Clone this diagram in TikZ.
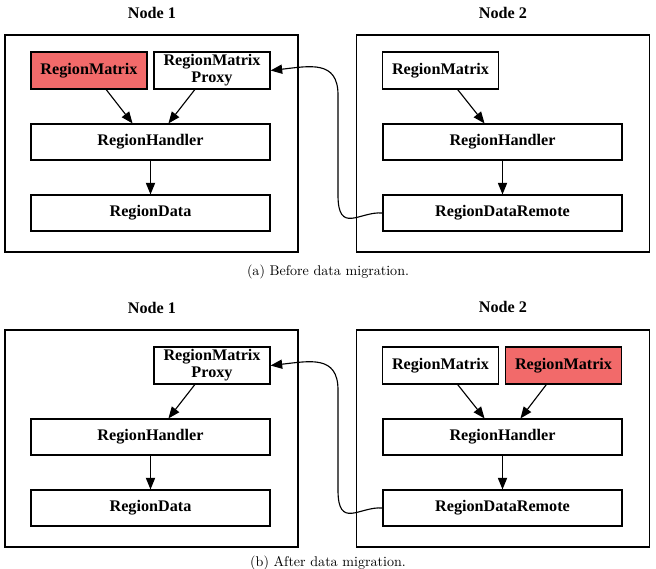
\documentclass[tikz,border=0pt]{standalone}
\usepackage{fontspec}
\newfontfamily\gvfont{Liberation Serif}
\usetikzlibrary{arrows.meta}
\definecolor{migred}{RGB}{242,106,106}

\begin{document}
\begin{tikzpicture}[x=0.025cm, y=-0.025cm,
  hostbox/.style={draw=black, line width=0.9pt, minimum width=7.325cm, minimum height=5.425cm, inner sep=0pt},
  smallbox/.style={draw=black, line width=0.8pt, fill=white, minimum width=2.9cm, minimum height=0.925cm, inner sep=1pt, align=center, font=\gvfont\bfseries\fontsize{11.5}{12}\selectfont},
  widebox/.style={smallbox, minimum width=5.975cm, minimum height=0.9cm},
  hot/.style={fill=migred},
  hosttitle/.style={font=\gvfont\bfseries\fontsize{11.5}{13}\selectfont},
  subcap/.style={anchor=base, inner sep=0pt, font=\fontsize{10}{12}\selectfont},
  arr/.style={-{Triangle[length=2.9mm,width=2.3mm]}, line width=0.8pt}]
\useasboundingbox (0,0) rectangle (656,568);

% (a) Before data migration
\node[hosttitle] (ta1) at (152,13) {Node 1};
\node[hosttitle] (ta2) at (503,13) {Node 2};
\node[hostbox] (ha1) at (151.5,143.5) {};
\node[hostbox] (ha2) at (503,143.5) {};
\node[smallbox, hot] (rma1) at (89,70.5) {RegionMatrix};
\node[smallbox] (pxa1) at (212,70.5) {RegionMatrix\\Proxy};
\node[widebox] (rha1) at (150.5,142) {RegionHandler};
\node[widebox] (rda1) at (150.5,213) {RegionData};
\node[smallbox] (rma2) at (440.5,70.5) {RegionMatrix};
\node[widebox] (rha2) at (502.5,142) {RegionHandler};
\node[widebox] (rra2) at (502.5,213) {RegionDataRemote};
\draw[arr] (rma1.-48) -- (rha1.134);
\draw[arr] (pxa1.-132) -- (rha1.46);
\draw[arr] (rha1) -- (rda1);
\draw[arr] (rma2.-48) -- (rha2.134);
\draw[arr] (rha2) -- (rra2);
\draw[arr] (rra2.west) .. controls (360,211) and (338,235) .. (338,195) -- (338,95) .. controls (338,60) and (310,66) .. (pxa1.east);
\node[subcap] (capa) at (328,275) {(a) Before data migration.};

% (b) After data migration
\node[hosttitle] (tb1) at (152,308) {Node 1};
\node[hosttitle] (tb2) at (503,307) {Node 2};
\node[hostbox] (hb1) at (151.5,438.5) {};
\node[hostbox] (hb2) at (503,438.5) {};
\node[smallbox] (pxb1) at (212,365.5) {RegionMatrix\\Proxy};
\node[widebox] (rhb1) at (150.5,437) {RegionHandler};
\node[widebox] (rdb1) at (150.5,508) {RegionData};
\node[smallbox] (rmb2) at (440.5,365.5) {RegionMatrix};
\node[smallbox, hot] (rmb3) at (563.5,365.5) {RegionMatrix};
\node[widebox] (rhb2) at (502.5,437) {RegionHandler};
\node[widebox] (rrb2) at (502.5,508) {RegionDataRemote};
\draw[arr] (pxb1.-132) -- (rhb1.46);
\draw[arr] (rhb1) -- (rdb1);
\draw[arr] (rmb2.-48) -- (rhb2.134);
\draw[arr] (rmb3.-132) -- (rhb2.46);
\draw[arr] (rhb2) -- (rrb2);
\draw[arr] (rrb2.west) .. controls (360,506) and (338,530) .. (338,490) -- (338,390) .. controls (338,355) and (310,361) .. (pxb1.east);
\node[subcap] (capb) at (328,566) {(b) After data migration.};
\end{tikzpicture}
\end{document}
